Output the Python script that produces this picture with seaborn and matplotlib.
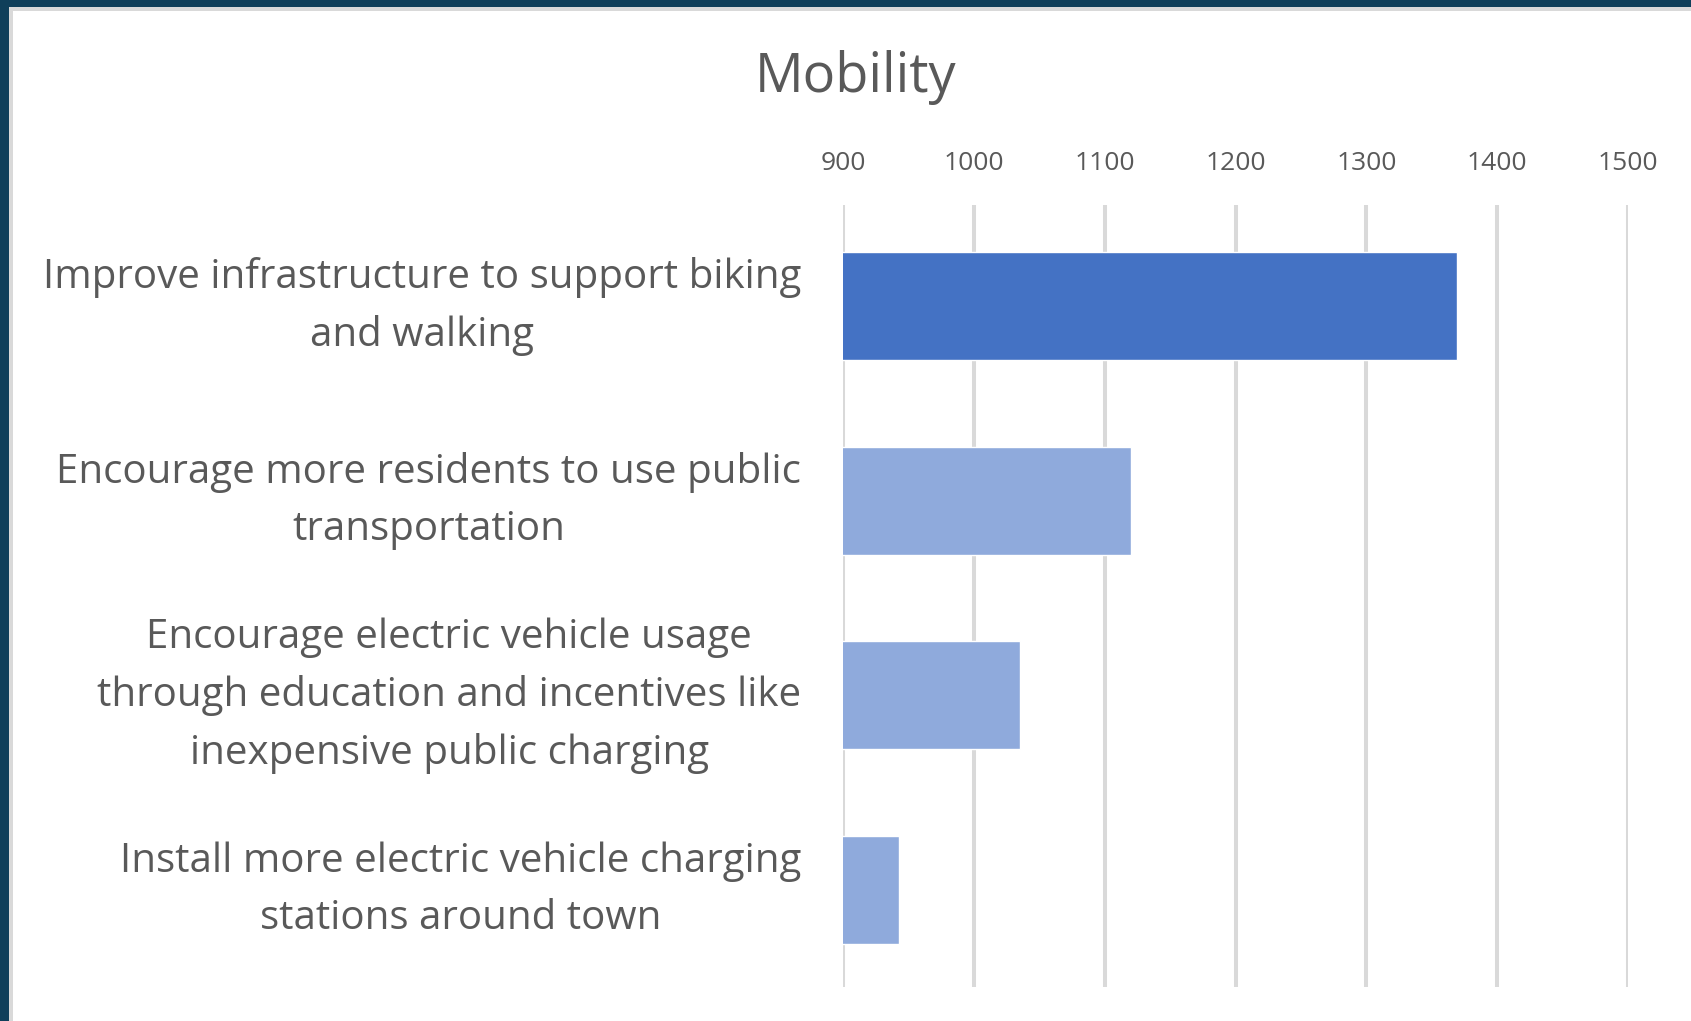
import matplotlib
matplotlib.use("Agg")
import matplotlib.pyplot as plt
from matplotlib.patches import Rectangle
from matplotlib.transforms import ScaledTranslation
import seaborn as sns

# data
categories = [
    "Improve infrastructure to support biking\nand walking",
    "Encourage more residents to use public\ntransportation",
    "Encourage electric vehicle usage\nthrough education and incentives like\ninexpensive public charging",
    "Install more electric vehicle charging\nstations around town",
]
votes = [1369, 1120, 1035, 943]
bar_colors = ["#4472C4", "#8FAADC", "#8FAADC", "#8FAADC"]
x_ticks = [900, 1000, 1100, 1200, 1300, 1400, 1500]

sns.set_theme(style="white")
plt.rcParams["font.family"] = ["Open Sans", "DejaVu Sans"]

W, H = 1691, 1021
fig = plt.figure(figsize=(W / 100, H / 100), dpi=100)
fig.patch.set_facecolor("#0F3F5A")
# slide frame: gray edge then white card
fig.add_artist(Rectangle((9 / W, 0), 1, 1 - 7 / H, transform=fig.transFigure,
                         facecolor="#D9D9D9", edgecolor="none", zorder=0))
fig.add_artist(Rectangle((13 / W, 0), 1, 1 - 11 / H, transform=fig.transFigure,
                         facecolor="white", edgecolor="none", zorder=0))

ax = fig.add_axes([843 / W, 1 - 987 / H, (1628 - 843) / W, (987 - 205) / H])
ax.set_facecolor("none")

sns.barplot(x=votes, y=categories, hue=categories, palette=bar_colors,
            legend=False, orient="h", width=0.555, saturation=1, ax=ax, zorder=3)

ax.set_xlim(900, 1500)
ax.set_ylim(3.5, -0.52)
ax.set_xticks(x_ticks)
ax.xaxis.tick_top()
ax.grid(axis="x", color="#D9D9D9", linewidth=2.9, zorder=0)
ax.set_axisbelow(True)
for s in ax.spines.values():
    s.set_visible(False)

ax.tick_params(axis="x", length=0, pad=21, labelsize=19, labelcolor="#595959")
ax.tick_params(axis="y", length=0, pad=30, labelsize=29, labelcolor="#595959")
shift_up = ScaledTranslation(0, 0.13, fig.dpi_scale_trans)
for lab in ax.get_yticklabels():
    lab.set_multialignment("center")
    lab.set_linespacing(1.55)
    lab.set_transform(lab.get_transform() + shift_up)
ax.set_xlabel("")
ax.set_ylabel("")

fig.text(856 / W, 1 - 92 / H, "Mobility", ha="center", va="baseline",
         fontsize=39, color="#595959")

fig.savefig("out.png", dpi=100, facecolor=fig.get_facecolor())
